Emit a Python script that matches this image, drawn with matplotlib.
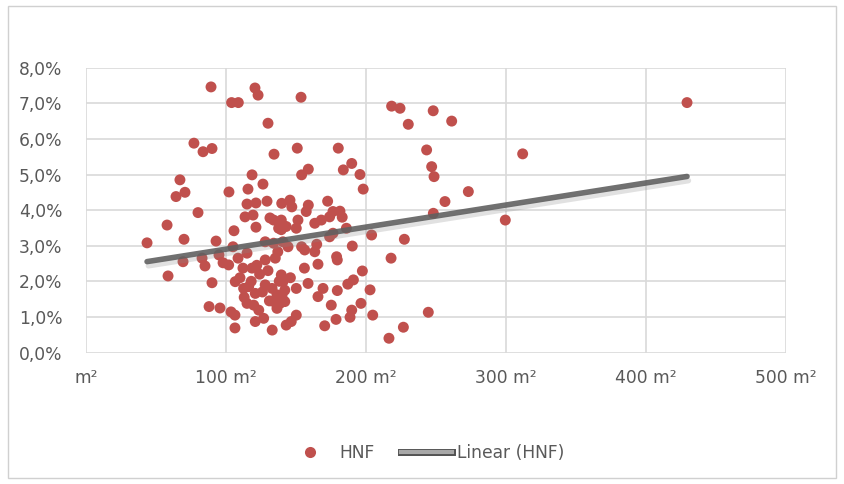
import numpy as np
import matplotlib
matplotlib.use("Agg")
import matplotlib.pyplot as plt
import matplotlib.patheffects as pe
from matplotlib.ticker import FuncFormatter
from matplotlib.lines import Line2D
from matplotlib.patches import Rectangle

# ---- data: (area in m², HNF in %) ----
area = [
    43.6, 57.9, 58.6, 64.3, 67.1, 70.7, 70.0, 69.3, 77.1, 80.0, 83.6, 90.0, 89.3,
    82.9, 85.0, 92.9, 95.0, 97.9, 90.0, 87.9, 95.7, 103.6, 106.4, 106.4,
    104.0, 108.8, 120.7, 122.9, 130.0, 134.3, 153.6,
    102.1, 115.7, 118.6, 126.4, 129.3, 115.0, 121.4, 113.6, 119.3, 121.4, 105.7,
    131.4, 134.0, 137.6, 128.0, 134.0, 105.0, 108.6, 115.0, 112.1, 118.6, 101.9,
    128.0, 135.2, 106.6, 112.6, 116.2, 120.9, 128.0, 132.9, 136.4, 115.0, 119.8,
    123.4, 120.9, 126.9, 133.0, 134.1, 136.4,
    110.0, 118.0, 124.0, 130.0, 126.0, 138.0, 142.0, 113.0, 131.0, 140.0, 122.0, 146.0,
    139.5, 140.7, 138.6, 142.0, 156.0, 165.7, 150.2, 158.6, 169.3, 165.7, 175.2,
    150.2, 146.6, 143.0, 170.5,
    204.0, 227.4, 190.2, 217.9, 179.0, 179.5, 197.4, 191.0, 187.0, 179.5, 202.9,
    196.4, 189.8, 188.6, 204.8, 178.6, 226.7, 216.4, 154.0, 164.8, 186.0,
    150.9, 180.2, 189.8, 183.8, 195.7, 198.0, 158.8, 154.0, 172.6, 145.7, 139.8,
    147.0, 158.8, 181.4, 183.0, 218.3, 224.3, 230.2,
    157.3, 139.5, 143.0, 139.5, 151.4, 150.2, 163.4, 168.1, 174.0, 176.4, 140.7,
    144.3, 156.2, 163.4, 174.0, 176.4, 137.0,
    248.0, 261.2, 243.3, 246.9, 248.6, 273.1, 256.4, 248.1, 311.9, 299.5, 429.3,
    244.5,
]
hnf = [
    3.08, 3.58, 2.15, 4.38, 4.85, 4.50, 3.18, 2.55, 5.88, 3.93, 5.64, 5.73, 7.46,
    2.65, 2.43, 3.13, 2.74, 2.52, 1.96, 1.29, 1.25, 1.14, 1.05, 0.69,
    7.02, 7.02, 7.43, 7.23, 6.44, 5.57, 7.17,
    4.51, 4.59, 4.99, 4.73, 4.25, 4.17, 4.20, 3.81, 3.86, 3.52, 3.42,
    3.78, 3.72, 3.49, 3.11, 3.07, 2.97, 2.65, 2.79, 2.37, 2.37, 2.46,
    2.60, 2.65, 1.99, 1.80, 1.85, 1.66, 1.90, 1.80, 1.62, 1.38, 1.33,
    1.19, 0.87, 0.96, 0.63, 1.43, 1.24,
    2.10, 2.00, 2.20, 2.30, 1.70, 2.00, 1.75, 1.55, 1.45, 1.60, 2.45, 2.10,
    2.18, 1.99, 1.38, 1.43, 2.37, 2.48, 1.80, 1.94, 1.80, 1.57, 1.33,
    1.05, 0.87, 0.77, 0.75,
    3.30, 3.18, 2.99, 2.65, 2.69, 2.60, 2.29, 2.04, 1.92, 1.74, 1.76,
    1.38, 1.19, 0.99, 1.05, 0.93, 0.71, 0.40, 2.97, 3.04, 3.49,
    5.74, 5.74, 5.31, 5.13, 5.00, 4.59, 5.15, 4.99, 4.25, 4.28, 4.19,
    4.09, 4.14, 3.97, 3.80, 6.92, 6.86, 6.41,
    3.96, 3.72, 3.54, 3.45, 3.72, 3.49, 3.63, 3.72, 3.81, 3.96, 3.11,
    2.97, 2.88, 2.83, 3.25, 3.35, 2.83,
    6.79, 6.50, 5.69, 5.22, 4.94, 4.52, 4.24, 3.91, 5.58, 3.72, 7.02,
    1.13,
]
x_ticks = [0, 100, 200, 300, 400, 500]
y_ticks = [0, 1, 2, 3, 4, 5, 6, 7, 8]
series_name = "HNF"
trend_name = "Linear (HNF)"

area = np.array(area)
hnf = np.array(hnf)

plt.rcParams['font.family'] = ['DejaVu Sans']
text_color = '#595959'
dot_color = '#C0504D'
grid_color = '#D9D9D9'
fs = 12.3

fig = plt.figure(figsize=(8.44, 4.84), dpi=100)
fig.patch.set_facecolor('white')
fig.patches.append(Rectangle((8 / 844, 6 / 484), 828 / 844, 472 / 484,
                             transform=fig.transFigure, fill=False,
                             edgecolor='#D0D0D0', linewidth=1.0))

ax = fig.add_axes([86 / 844, 1 - 352.5 / 484, 700 / 844, 284.8 / 484])
ax.set_xlim(0, 500)
ax.set_ylim(0, 8)
ax.set_xticks(x_ticks)
ax.set_yticks(y_ticks)
ax.grid(True, color=grid_color, linewidth=1.2)
ax.set_axisbelow(True)
for s in ax.spines.values():
    s.set_visible(False)
ax.tick_params(length=0, labelsize=fs, colors=text_color)
ax.tick_params(axis='x', pad=12)
ax.tick_params(axis='y', pad=17)
ax.xaxis.set_major_formatter(FuncFormatter(lambda v, p: "m²" if v == 0 else f"{int(v)} m²"))
ax.yaxis.set_major_formatter(FuncFormatter(lambda v, p: f"{v:.1f}%".replace('.', ',')))

ax.scatter(area, hnf, s=62, color=dot_color, edgecolors='none', zorder=3)

coef = np.polyfit(area, hnf, 1)
xt = np.array([area.min(), area.max()])
ax.plot(xt, np.polyval(coef, xt), color='#606060', linewidth=4, solid_capstyle='round',
        zorder=4, alpha=0.9,
        path_effects=[pe.SimpleLineShadow(offset=(1, -3), shadow_color='#888888', alpha=0.25),
                      pe.Normal()])

handles = [Line2D([], [], marker='o', linestyle='none', markersize=8,
                  markerfacecolor=dot_color, markeredgecolor='none'),
           Line2D([], [], color='#A8A8A8', linewidth=3,
                  path_effects=[pe.Stroke(linewidth=5, foreground='#505050'), pe.Normal()])]
fig.legend(handles, [series_name, trend_name], loc='center', ncol=2,
           bbox_to_anchor=(424 / 844, (484 - 453) / 484), frameon=False,
           fontsize=fs, labelcolor=text_color, handlelength=3.0,
           columnspacing=1.55, handletextpad=0.25)

fig.savefig('out.png', dpi=100)
